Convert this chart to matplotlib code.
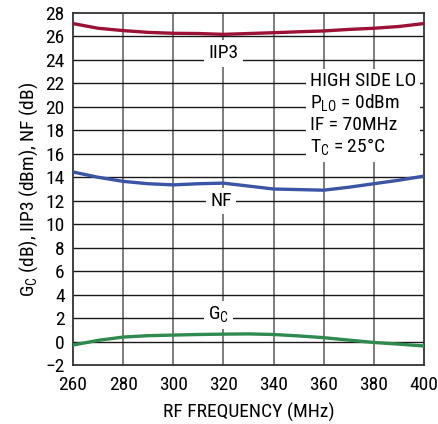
import matplotlib
matplotlib.use("Agg")
import matplotlib.pyplot as plt
from matplotlib import font_manager

names = {f.name for f in font_manager.fontManager.ttflist}
fam = 'Roboto'
for cand in ['Roboto Condensed', 'Liberation Sans Narrow', 'Arial Narrow', 'Roboto']:
    if cand in names:
        fam = cand
        break
plt.rcParams['font.family'] = [fam, 'DejaVu Sans']
plt.rcParams['mathtext.fontset'] = 'custom'
plt.rcParams['mathtext.rm'] = fam

freq = [260, 270, 280, 290, 300, 310, 320, 330, 340, 350, 360, 370, 380, 390, 400]
iip3 = [27.1, 26.7, 26.5, 26.35, 26.27, 26.25, 26.18, 26.25, 26.32, 26.4, 26.47, 26.6, 26.7, 26.85, 27.1]
nf = [14.45, 14.0, 13.65, 13.45, 13.35, 13.45, 13.5, 13.25, 13.0, 12.95, 12.9, 13.15, 13.45, 13.75, 14.1]
gc = [-0.3, 0.1, 0.38, 0.5, 0.55, 0.6, 0.63, 0.65, 0.6, 0.48, 0.33, 0.12, -0.08, -0.22, -0.38]

xticks = [260, 280, 300, 320, 340, 360, 380, 400]
yticks = list(range(-2, 29, 2))
ytick_labels = ['\u22122'] + [str(v) for v in yticks[1:]]

fs = 14
fig = plt.figure(figsize=(4.38, 4.24), dpi=100)
ax = fig.add_axes([73/438, 1 - 365/424, (424-73)/438, (365-13)/424])

ax.set_xlim(260, 400)
ax.set_ylim(-2, 28)
ax.set_xticks(xticks)
ax.set_yticks(yticks)
ax.set_yticklabels(ytick_labels)
ax.tick_params(length=0, labelsize=fs)
ax.tick_params(axis='x', pad=8)
ax.tick_params(axis='y', pad=6)
for v in xticks[1:-1]:
    ax.axvline(v, color='#5a5a5a', lw=1.1, zorder=1)
for v in yticks[1:-1]:
    ax.axhline(v, color='#1a1a1a', lw=1.0, zorder=1)
for s in ax.spines.values():
    s.set_color('#333333')
    s.set_linewidth(1.3)

ax.plot(freq, iip3, color='#9c1236', lw=2.4, zorder=3)
ax.plot(freq, nf, color='#3a55a5', lw=2.4, zorder=3)
ax.plot(freq, gc, color='#2e8a4e', lw=2.4, zorder=3)

bb = dict(facecolor='white', edgecolor='none', pad=3)
ax.text(320, 24.55, 'IIP3', ha='center', va='center', fontsize=fs, bbox=bb, zorder=2)
ax.text(319, 11.95, 'NF', ha='center', va='center', fontsize=fs, bbox=bb, zorder=2)
ax.text(318, 2.25, r'G$_\mathregular{C}$', ha='center', va='center', fontsize=fs, bbox=bb, zorder=2)

ax.text(354.5, 23.0,
        'HIGH SIDE LO\n' + r'P$_\mathregular{LO}$ = 0dBm' + '\nIF = 70MHz\n' + r'T$_\mathregular{C}$ = 25°C',
        ha='left', va='top', fontsize=fs, linespacing=1.17,
        bbox=dict(facecolor='white', edgecolor='none', pad=3), zorder=2)

ax.set_xlabel('RF FREQUENCY (MHz)', fontsize=fs, labelpad=6)
ax.set_ylabel(r'G$_\mathregular{C}$ (dB), IIP3 (dBm), NF (dB)', fontsize=fs, labelpad=4)

fig.savefig('out.png', dpi=100)
